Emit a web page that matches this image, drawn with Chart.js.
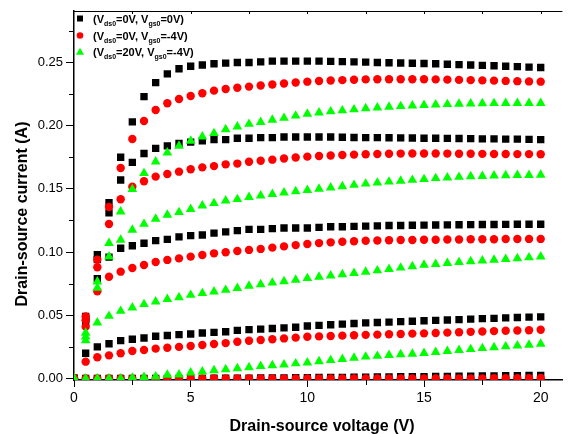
<!DOCTYPE html>
<html>
<head>
<meta charset="utf-8">
<script src="https://cdn.jsdelivr.net/npm/chart.js@4/dist/chart.umd.min.js"></script>
<style>
  html, body { margin: 0; padding: 0; background: #fff; }
  canvas { display: block; }
</style>
</head>
<body>
<canvas id="myChart" width="568" height="434"></canvas>
<script>
// drain-source voltage (V)
const vds = [0, 0.5, 1, 1.5, 2, 2.5, 3, 3.5, 4, 4.5, 5, 5.5, 6, 6.5, 7, 7.5, 8, 8.5, 9, 9.5, 10,
    10.5, 11, 11.5, 12, 12.5, 13, 13.5, 14, 14.5, 15, 15.5, 16, 16.5, 17, 17.5, 18, 18.5, 19, 19.5, 20];

// (Vds0=0V, Vgs0=0V) - black squares
const sq1 = [0, 0.049, 0.098, 0.139, 0.175, 0.203, 0.223, 0.234, 0.241, 0.245, 0.247, 0.248, 0.249, 0.2495, 0.250, 0.250, 0.2505, 0.251, 0.251, 0.251, 0.251,
    0.251, 0.2508, 0.2506, 0.2504, 0.2502, 0.250, 0.2498, 0.2496, 0.2494, 0.2492, 0.249, 0.2486, 0.2483, 0.248, 0.2477, 0.2474, 0.247, 0.2467, 0.2463, 0.246];
const sq2 = [0, 0.047, 0.094, 0.131, 0.157, 0.171, 0.178, 0.182, 0.184, 0.186, 0.187, 0.188, 0.189, 0.189, 0.190, 0.190, 0.1905, 0.1905, 0.191, 0.191, 0.191,
    0.191, 0.191, 0.1908, 0.1906, 0.1905, 0.1905, 0.1904, 0.1903, 0.1902, 0.190, 0.190, 0.1899, 0.1898, 0.1897, 0.1896, 0.1895, 0.1894, 0.1893, 0.1891, 0.189];
const sq3 = [0, 0.045, 0.079, 0.096, 0.103, 0.105, 0.107, 0.109, 0.110, 0.112, 0.113, 0.1135, 0.115, 0.116, 0.117, 0.118, 0.118, 0.1185, 0.119, 0.119, 0.119,
    0.1195, 0.120, 0.120, 0.1203, 0.1205, 0.1207, 0.121, 0.121, 0.1212, 0.1213, 0.1214, 0.1215, 0.1216, 0.1217, 0.1218, 0.1218, 0.1219, 0.122, 0.122, 0.122];
const sq4 = [0, 0.020, 0.025, 0.0275, 0.030, 0.031, 0.032, 0.0334, 0.034, 0.0347, 0.0352, 0.036, 0.0365, 0.037, 0.038, 0.0386, 0.039, 0.0395, 0.040, 0.0405, 0.0415,
    0.042, 0.0425, 0.043, 0.0435, 0.044, 0.0443, 0.0446, 0.045, 0.0453, 0.0457, 0.046, 0.0463, 0.0466, 0.047, 0.0473, 0.0476, 0.0479, 0.0482, 0.0485, 0.0487];
const sq5 = [0, 0, 0, 0, 0, 0, 0, 0, 0, 0, 0.0001, 0.0001, 0.0002, 0.0002, 0.0003, 0.0003, 0.0004, 0.0004, 0.0005, 0.0006, 0.0007,
    0.0008, 0.0008, 0.0009, 0.001, 0.0011, 0.0012, 0.0013, 0.0014, 0.0014, 0.0015, 0.0016, 0.0017, 0.0018, 0.0019, 0.002, 0.0021, 0.0022, 0.0023, 0.0024, 0.0025];

// (Vds0=0V, Vgs0=-4V) - red circles
const ci1 = [0, 0.049, 0.094, 0.1357, 0.1665, 0.1895, 0.2037, 0.2124, 0.2177, 0.2211, 0.2235, 0.2256, 0.2277, 0.229, 0.230, 0.2309, 0.2318, 0.2326, 0.2334, 0.2341, 0.2348,
    0.2353, 0.2357, 0.236, 0.2363, 0.2366, 0.2367, 0.2367, 0.2367, 0.2367, 0.2367, 0.2366, 0.2364, 0.2362, 0.236, 0.2358, 0.2356, 0.2354, 0.2352, 0.235, 0.2348];
const ci2 = [0, 0.046, 0.088, 0.1222, 0.1418, 0.1517, 0.156, 0.1597, 0.1618, 0.1636, 0.1655, 0.167, 0.168, 0.1694, 0.170, 0.1715, 0.1722, 0.1731, 0.174, 0.1748, 0.1755,
    0.176, 0.1764, 0.1768, 0.1771, 0.1774, 0.1776, 0.1778, 0.1779, 0.178, 0.178, 0.178, 0.1779, 0.1778, 0.1778, 0.1777, 0.1776, 0.1776, 0.1775, 0.1775, 0.1774];
const ci3 = [0, 0.041, 0.069, 0.0805, 0.0845, 0.0874, 0.0898, 0.0921, 0.0938, 0.095, 0.0964, 0.0977, 0.099, 0.0998, 0.1009, 0.1017, 0.1025, 0.1035, 0.1045, 0.1055, 0.1064,
    0.1071, 0.1077, 0.1082, 0.1086, 0.109, 0.1092, 0.1094, 0.1095, 0.1096, 0.1097, 0.1098, 0.1099, 0.11, 0.1101, 0.1102, 0.1102, 0.1103, 0.1103, 0.1104, 0.1104];
const ci4 = [0, 0.0133, 0.0168, 0.0183, 0.020, 0.0218, 0.0225, 0.0236, 0.0243, 0.025, 0.0257, 0.0265, 0.0273, 0.028, 0.029, 0.0298, 0.0305, 0.031, 0.0317, 0.0323, 0.033,
    0.0333, 0.0336, 0.0339, 0.0342, 0.0345, 0.0347, 0.035, 0.0352, 0.0355, 0.0357, 0.036, 0.0363, 0.0366, 0.0369, 0.0372, 0.0375, 0.0378, 0.038, 0.0382, 0.0385];
const ci5 = [0, 0, 0, 0, 0, 0, 0, 0, 0, 0, 0, 0, 0, 0, 0, 0, 0, 0, 0, 0, 0,
    0, 0, 0, 0, 0, 0, 0, 0, 0, 0, 0, 0, 0, 0.0001, 0.0001, 0.0002, 0.0002, 0.0003, 0.0003, 0.0004];

// (Vds0=20V, Vgs0=-4V) - green triangles
const tr1 = [0, 0.036, 0.0766, 0.107, 0.132, 0.1497, 0.1623, 0.1715, 0.1787, 0.184, 0.188, 0.1913, 0.194, 0.197, 0.1992, 0.2013, 0.2028, 0.2045, 0.206, 0.2078, 0.2093,
    0.2103, 0.2112, 0.212, 0.2128, 0.2136, 0.2142, 0.2148, 0.2153, 0.2158, 0.2162, 0.2166, 0.2169, 0.2172, 0.2174, 0.2176, 0.2177, 0.2178, 0.2178, 0.2178, 0.2178];
const tr2 = [0, 0.033, 0.0716, 0.0964, 0.1096, 0.1175, 0.1222, 0.1262, 0.1294, 0.1315, 0.1339, 0.1367, 0.1386, 0.1407, 0.1418, 0.1434, 0.1446, 0.1458, 0.147, 0.148, 0.149,
    0.150, 0.151, 0.152, 0.153, 0.154, 0.1548, 0.1556, 0.1563, 0.157, 0.1576, 0.1584, 0.1589, 0.1594, 0.1598, 0.1601, 0.1604, 0.1606, 0.1608, 0.1609, 0.161];
const tr3 = [0, 0.030, 0.0442, 0.0494, 0.0534, 0.056, 0.0587, 0.0608, 0.0627, 0.0642, 0.066, 0.0674, 0.0687, 0.070, 0.0715, 0.0732, 0.0744, 0.0757, 0.0768, 0.078, 0.0793,
    0.0803, 0.0813, 0.0823, 0.0833, 0.0843, 0.0854, 0.0865, 0.0876, 0.0887, 0.0898, 0.0905, 0.0912, 0.0919, 0.0926, 0.0932, 0.0938, 0.0944, 0.095, 0.0957, 0.0964];
const tr4 = [0, 0, 0, 0, 0, 0.0005, 0.001, 0.0015, 0.0028, 0.003, 0.0046, 0.0054, 0.0064, 0.0072, 0.008, 0.0088, 0.0097, 0.0104, 0.011, 0.0118, 0.0125,
    0.0135, 0.0144, 0.0153, 0.0163, 0.0172, 0.0178, 0.0185, 0.019, 0.0195, 0.020, 0.0208, 0.0216, 0.0224, 0.0231, 0.0239, 0.0246, 0.0253, 0.026, 0.0266, 0.0273];

const xTicks = [0, 5, 10, 15, 20];
const yTicks = [0, 0.05, 0.10, 0.15, 0.20, 0.25];

// legend rows: [text, subscript, text, subscript, text]
const legendRows = [
    ['(V', 'ds0', '=0V, V', 'gs0', '=0V)'],
    ['(V', 'ds0', '=0V, V', 'gs0', '=-4V)'],
    ['(V', 'ds0', '=20V, V', 'gs0', '=-4V)']
];

function toPoints(arr) {
    return arr.map(function (v, i) { return { x: vds[i], y: v }; });
}

document.addEventListener('DOMContentLoaded', function () {
    var ctx = document.getElementById('myChart').getContext('2d');

    var styles = [
        { style: 'rect', color: '#000000', radius: 5.2, order: 3 },
        { style: 'circle', color: '#ff0000', radius: 4.2, order: 2 },
        { style: 'triangle', color: '#00ff00', radius: 5.6, order: 1 }
    ];
    var groups = [[sq1, sq2, sq3, sq4, sq5], [ci1, ci2, ci3, ci4, ci5], [tr1, tr2, tr3, tr4]];

    var datasets = [];
    groups.forEach(function (curves, g) {
        var s = styles[g];
        curves.forEach(function (c) {
            datasets.push({
                data: toPoints(c),
                showLine: false,
                pointStyle: s.style,
                pointRadius: s.radius,
                pointBackgroundColor: s.color,
                pointBorderWidth: 0,
                order: s.order,
                clip: 0
            });
        });
    });

    // axis frame, minor ticks, titles and legend
    var decor = {
        id: 'decor',
        afterDraw: function (chart) {
            var c = chart.ctx, a = chart.chartArea;
            var xs = chart.scales.x, ys = chart.scales.y;
            c.save();
            c.strokeStyle = '#000';
            c.lineWidth = 1;
            // top frame line
            c.beginPath();
            c.moveTo(a.left, a.top + 0.5);
            c.lineTo(a.right, a.top + 0.5);
            c.stroke();
            // minor ticks
            c.beginPath();
            for (var v = 2.5; v < 20.5; v += 5) {
                var px = Math.round(xs.getPixelForValue(v)) + 0.5;
                c.moveTo(px, a.bottom); c.lineTo(px, a.bottom + 5);
            }
            for (var t = 2.5; t < 21; t += 2.5) {
                var tx = Math.round(xs.getPixelForValue(t)) + 0.5;
                c.moveTo(tx, a.top); c.lineTo(tx, a.top + 3);
            }
            for (var w = 0.025; w < 0.29; w += 0.05) {
                var py = Math.round(ys.getPixelForValue(w)) + 0.5;
                c.moveTo(a.left, py); c.lineTo(a.left - 5, py);
            }
            c.stroke();

            // axis titles
            c.fillStyle = '#000';
            c.font = 'bold 16px "Liberation Sans", Arial, sans-serif';
            c.textAlign = 'center';
            c.textBaseline = 'alphabetic';
            c.fillText('Drain-source voltage (V)', 322, 431);
            c.save();
            c.translate(27, 214);
            c.rotate(-Math.PI / 2);
            c.fillText('Drain-source current (A)', 0, 0);
            c.restore();

            // legend
            var lx = 80, rowY = [22.5, 39.5, 56];
            c.textAlign = 'left';
            legendRows.forEach(function (row, r) {
                var s = styles[r];
                var cy = rowY[r] - 4;
                c.fillStyle = s.color;
                c.beginPath();
                if (s.style === 'rect') { c.rect(lx - 3, cy - 3, 6, 6); }
                else if (s.style === 'circle') { c.arc(lx, cy, 3.3, 0, Math.PI * 2); }
                else { c.moveTo(lx, cy - 4.2); c.lineTo(lx + 4, cy + 2.8); c.lineTo(lx - 4, cy + 2.8); c.closePath(); }
                c.fill();
                c.fillStyle = '#000';
                var x = 93;
                row.forEach(function (seg, k) {
                    if (k % 2 === 1) {
                        c.font = 'bold 7px "Liberation Sans", Arial, sans-serif';
                        c.fillText(seg, x, rowY[r] + 3);
                    } else {
                        c.font = 'bold 11px "Liberation Sans", Arial, sans-serif';
                        c.fillText(seg, x, rowY[r]);
                    }
                    x += c.measureText(seg).width;
                });
            });
            c.restore();
        }
    };

    var myChart = new Chart(ctx, {
        type: 'scatter',
        data: { datasets: datasets },
        options: {
            responsive: false,
            animation: false,
            layout: { padding: { top: 11, right: 0, left: 0, bottom: 0 } },
            plugins: { legend: { display: false }, tooltip: { enabled: false } },
            scales: {
                x: {
                    type: 'linear',
                    min: 0,
                    max: 20.93,
                    afterBuildTicks: function (scale) {
                        scale.ticks = xTicks.map(function (v) { return { value: v }; });
                    },
                    afterFit: function (scale) { scale.height = 54; },
                    ticks: {
                        color: '#000',
                        font: { family: '"Liberation Sans", Arial, sans-serif', size: 14 },
                        padding: 3,
                        maxRotation: 0,
                        autoSkip: false
                    },
                    grid: { drawOnChartArea: false, drawTicks: true, tickLength: 7, color: '#000', tickWidth: 1 },
                    border: { display: true, color: '#000', width: 1.5 }
                },
                y: {
                    type: 'linear',
                    min: -0.0012,
                    max: 0.2907,
                    afterBuildTicks: function (scale) {
                        scale.ticks = yTicks.map(function (v) { return { value: v }; });
                    },
                    afterFit: function (scale) { scale.width = 74; },
                    ticks: {
                        color: '#000',
                        font: { family: '"Liberation Sans", Arial, sans-serif', size: 13 },
                        padding: 3,
                        autoSkip: false,
                        callback: function (v) { return Number(v).toFixed(2); }
                    },
                    grid: { drawOnChartArea: false, drawTicks: true, tickLength: 8, color: '#000', tickWidth: 1 },
                    border: { display: true, color: '#000', width: 1.5 }
                }
            }
        },
        plugins: [decor]
    });
});
</script>
</body>
</html>
